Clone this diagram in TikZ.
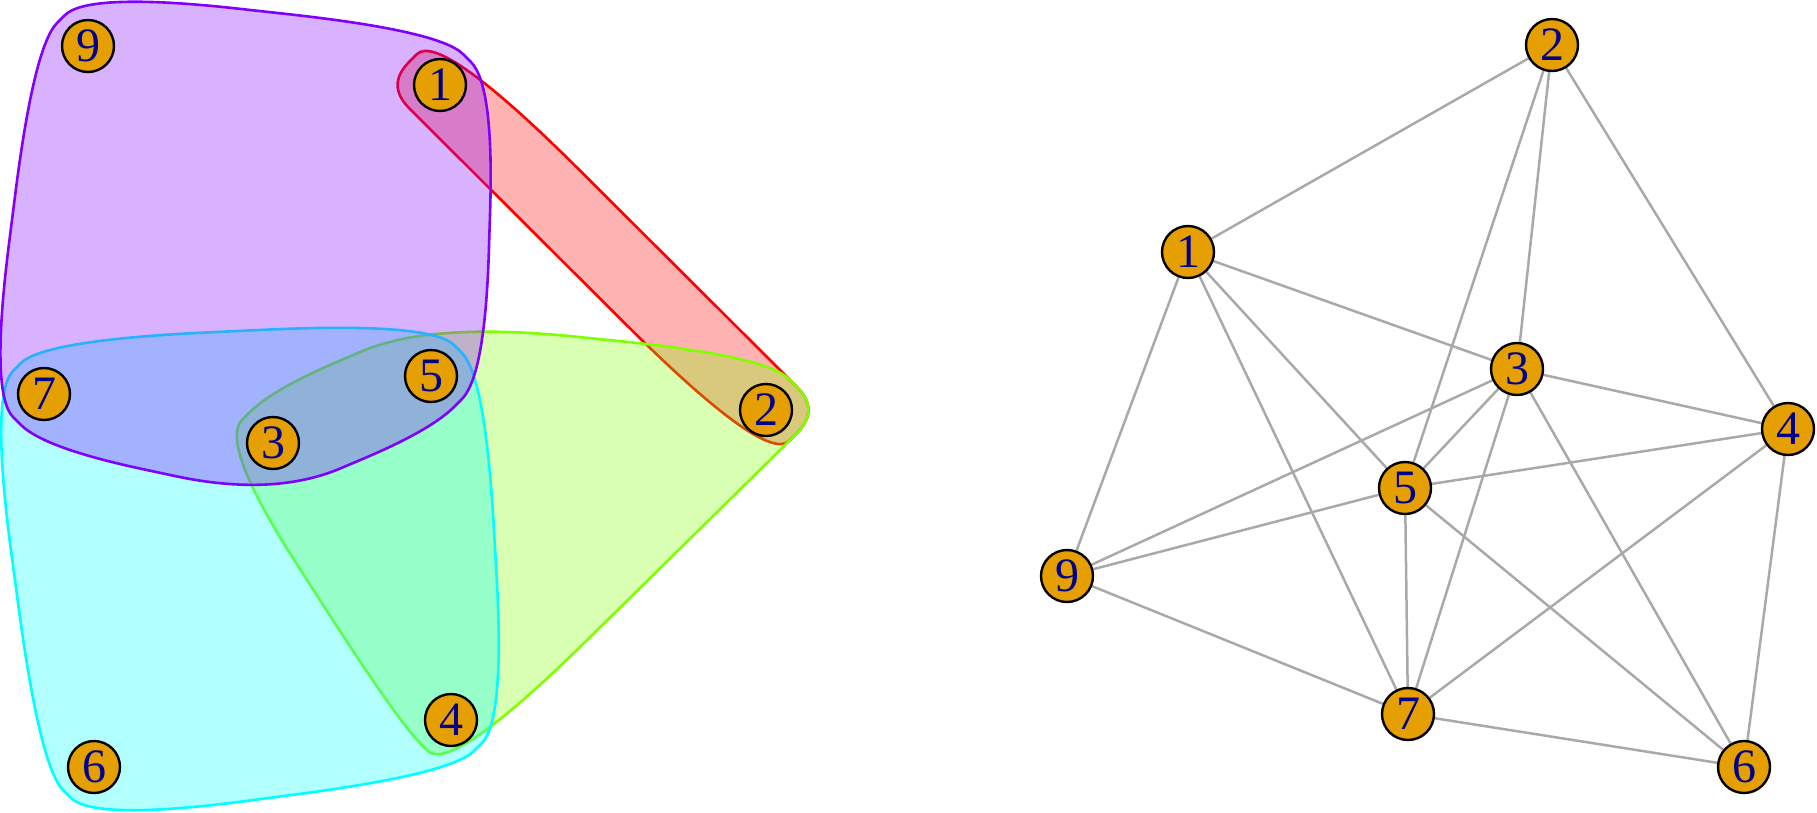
\documentclass[tikz,border=0pt]{standalone}
\usepackage{fontspec}
\setmainfont{Liberation Serif}
\usetikzlibrary{calc}
\pgfdeclarelayer{background}
\pgfsetlayers{background,main}
\definecolor{vfill}{HTML}{E69F00}
\definecolor{vlab}{HTML}{00008B}
\definecolor{edgec}{HTML}{A9A9A9}
\definecolor{gred}{HTML}{FF0000}
\definecolor{ggreen}{HTML}{80FF00}
\definecolor{gcyan}{HTML}{00FFFF}
\definecolor{gpurple}{HTML}{8000FF}
\newcommand\hc[3]{-- ($(#2)!0.43!(#1)$) .. controls ($(#2)!0.1433!(#1)$) and ($(#2)!0.1433!(#3)$) .. ($(#2)!0.43!(#3)$)}
\begin{document}
\begin{tikzpicture}[x=1pt,y=-1pt,
  vert/.style={circle, draw=black, line width=2.4pt, fill=vfill, minimum size=52pt, inner sep=0pt, text=vlab, font=\fontsize{48}{48}\selectfont},
  edge/.style={draw=edgec, line width=2.5pt},
  hull/.style={line width=2.6pt, line join=round, fill opacity=0.3}]
\useasboundingbox (0,0) rectangle (1817,812);

% ---- left panel nodes
\node[vert] (L9) at (88,46) {9};
\node[vert] (L1) at (440,85) {1};
\node[vert] (L7) at (44,394) {7};
\node[vert] (L5) at (431,376) {5};
\node[vert] (L3) at (273,443) {3};
\node[vert] (L2) at (766,410) {2};
\node[vert] (L4) at (451,720) {4};
\node[vert] (L6) at (94,767) {6};

\foreach \n in {1,2,3,4,5,6,7,9} {
  \coordinate (l\n) at ($(L\n.center)+(-54,0)$);
  \coordinate (r\n) at ($(L\n.center)+(54,0)$);
  \coordinate (t\n) at ($(L\n.center)+(0,-54)$);
  \coordinate (b\n) at ($(L\n.center)+(0,54)$);
}

\begin{pgfonlayer}{background}
% red group {1,2}
\draw[hull, draw=gred, fill=gred] ($(l1)!0.43!(b1)$) \hc{b1}{l1}{t1} \hc{l1}{t1}{t2} \hc{t1}{t2}{r2} \hc{t2}{r2}{b2} \hc{r2}{b2}{b1} \hc{b2}{b1}{l1} -- cycle;
% green group {2,3,4,5}
\draw[hull, draw=ggreen, fill=ggreen] ($(t5)!0.43!(t3)$) \hc{t3}{t5}{t2} \hc{t5}{t2}{r2} \hc{t2}{r2}{b2} \hc{r2}{b2}{b4} \hc{b2}{b4}{l4} \hc{b4}{l4}{l3} \hc{l4}{l3}{t3} \hc{l3}{t3}{t5} -- cycle;
% cyan group {3,4,5,6,7}
\draw[hull, draw=gcyan, fill=gcyan] ($(t7)!0.43!(l7)$) \hc{l7}{t7}{t5} \hc{t7}{t5}{r5} \hc{t5}{r5}{r4} \hc{r5}{r4}{b4} \hc{r4}{b4}{b6} \hc{b4}{b6}{l6} \hc{b6}{l6}{l7} \hc{l6}{l7}{t7} -- cycle;
% purple group {1,3,5,7,9}
\draw[hull, draw=gpurple, fill=gpurple] ($(t9)!0.43!(l9)$) \hc{l9}{t9}{t1} \hc{t9}{t1}{r1} \hc{t1}{r1}{r5} \hc{r1}{r5}{b5} \hc{r5}{b5}{b3} \hc{b5}{b3}{b7} \hc{b3}{b7}{l7} \hc{b7}{l7}{l9} \hc{l7}{l9}{t9} -- cycle;
\end{pgfonlayer}

% ---- right panel
\node[vert] (R2) at (1552,45) {2};
\node[vert] (R1) at (1188,252) {1};
\node[vert] (R3) at (1517,369) {3};
\node[vert] (R4) at (1788,429) {4};
\node[vert] (R5) at (1405,488) {5};
\node[vert] (R9) at (1067,576) {9};
\node[vert] (R7) at (1408,714) {7};
\node[vert] (R6) at (1744,767) {6};

\begin{pgfonlayer}{background}
\draw[edge] (R2) -- (R1);
\draw[edge] (R2) -- (R5);
\draw[edge] (R2) -- (R3);
\draw[edge] (R2) -- (R4);
\draw[edge] (R1) -- (R9);
\draw[edge] (R1) -- (R7);
\draw[edge] (R1) -- (R5);
\draw[edge] (R1) -- (R3);
\draw[edge] (R3) -- (R9);
\draw[edge] (R3) -- (R5);
\draw[edge] (R3) -- (R7);
\draw[edge] (R3) -- (R6);
\draw[edge] (R3) -- (R4);
\draw[edge] (R4) -- (R5);
\draw[edge] (R4) -- (R7);
\draw[edge] (R4) -- (R6);
\draw[edge] (R5) -- (R9);
\draw[edge] (R5) -- (R7);
\draw[edge] (R5) -- (R6);
\draw[edge] (R9) -- (R7);
\draw[edge] (R7) -- (R6);
\end{pgfonlayer}
\end{tikzpicture}
\end{document}
